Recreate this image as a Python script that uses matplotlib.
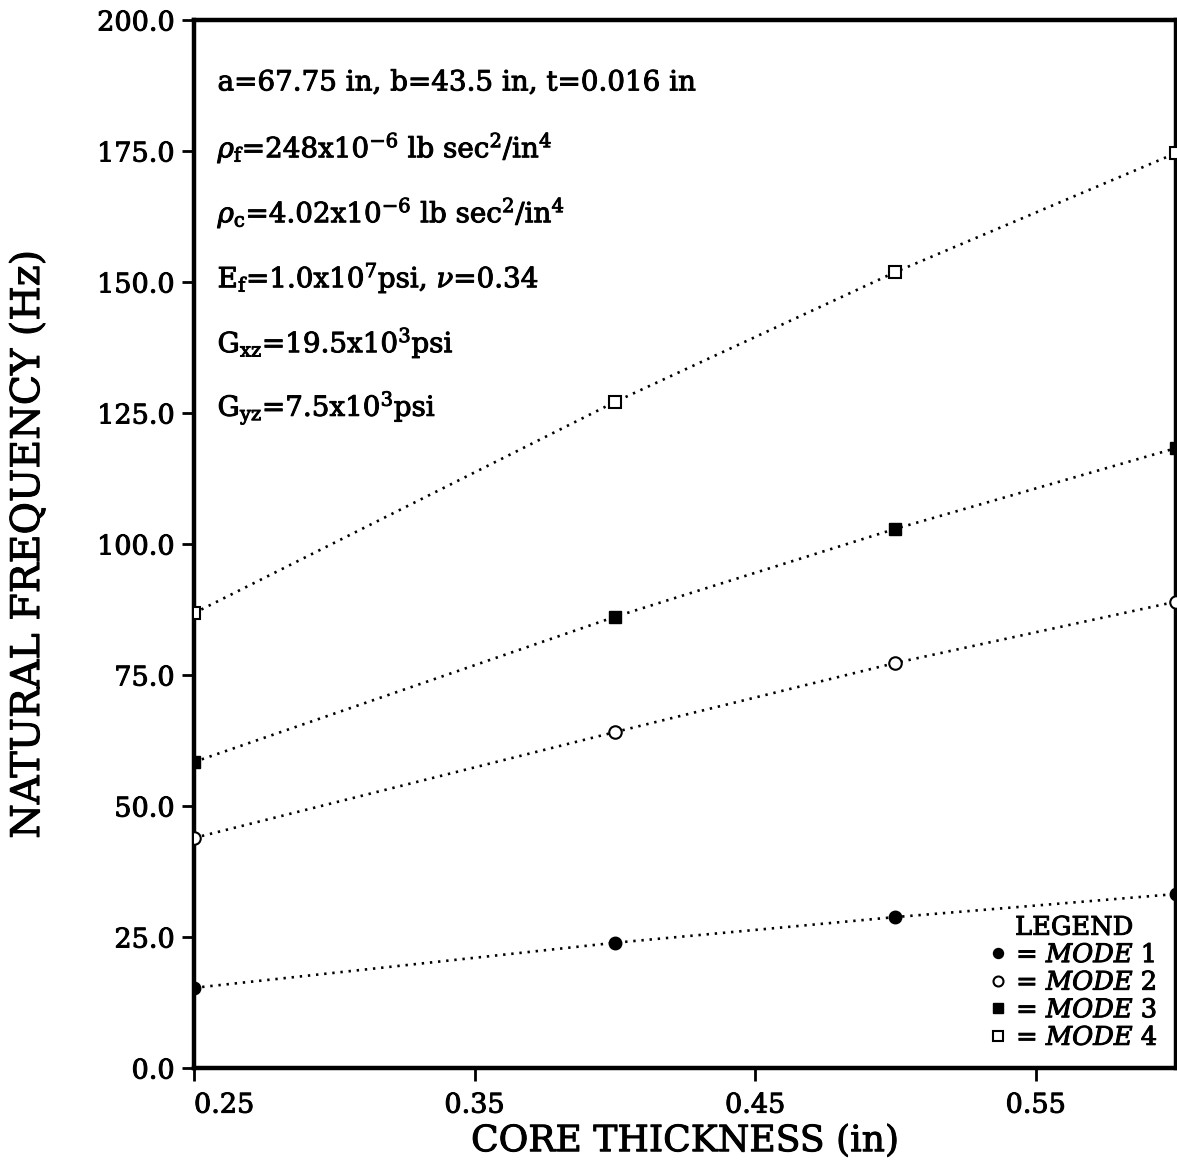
import matplotlib
matplotlib.use("Agg")
import matplotlib.pyplot as plt
import matplotlib.patheffects as pe
from matplotlib.lines import Line2D

plt.rcParams['font.family'] = ['DejaVu Serif']
plt.rcParams['mathtext.fontset'] = 'dejavuserif'

# Core thickness (in) and natural frequencies (Hz) of the first four modes
core_thickness = [0.25, 0.40, 0.50, 0.60]
mode1 = [15.3, 23.9, 28.8, 33.2]
mode2 = [43.9, 64.1, 77.3, 89.0]
mode3 = [58.4, 86.1, 102.9, 118.3]
mode4 = [86.8, 127.1, 151.9, 174.6]

x_ticks = [0.25, 0.35, 0.45, 0.55]
y_ticks = [0, 25, 50, 75, 100, 125, 150, 175, 200]

# slight ink spread to give the printed look
ink = [pe.withStroke(linewidth=0.7, foreground='black')]

W, H = 1177, 1167
fig = plt.figure(figsize=(W / 100, H / 100), dpi=100)
ax = fig.add_axes([194 / W, 1 - 1068 / H, (1176 - 194) / W, (1068 - 20) / H])

series = [
    (mode1, dict(marker='o', mfc='black', mec='black', ms=9)),
    (mode2, dict(marker='o', mfc='white', mec='black', ms=9, mew=1.5)),
    (mode3, dict(marker='s', mfc='black', mec='black', ms=9)),
    (mode4, dict(marker='s', mfc='white', mec='black', ms=9, mew=1.5)),
]
for vals, style in series:
    ax.plot(core_thickness, vals, color='black', lw=1.9,
            linestyle=(0, (0.9, 2.2)), zorder=3, **style)

ax.set_xlim(0.25, 0.60)
ax.set_ylim(0, 200)
ax.set_xticks(x_ticks)
ax.set_xticklabels([f"{v:.2f}" for v in x_ticks])
ax.set_yticks(y_ticks)
ax.set_yticklabels([f"{v:.1f}" for v in y_ticks])
ax.tick_params(axis='both', direction='out', length=9, width=2,
               labelsize=19.5, color='black')
ax.tick_params(axis='x', pad=8)
ax.tick_params(axis='y', pad=5)
xlabels = ax.get_xticklabels()
xlabels[0].set_horizontalalignment('left')
for lab in ax.get_xticklabels() + ax.get_yticklabels():
    lab.set_path_effects(ink)
for sp in ax.spines.values():
    sp.set_linewidth(3.2)

ax.set_xlabel("CORE THICKNESS (in)", fontsize=26, labelpad=4,
              path_effects=ink)
ax.set_ylabel("NATURAL FREQUENCY (Hz)", fontsize=28.5, labelpad=36,
              path_effects=ink)

notes = [
    r"a=67.75 in, b=43.5 in, t=0.016 in",
    r"$\rho_{\rm f}$=248x10$^{-6}$ lb sec$^{2}$/in$^{4}$",
    r"$\rho_{\rm c}$=4.02x10$^{-6}$ lb sec$^{2}$/in$^{4}$",
    r"E$_{\rm f}$=1.0x10$^{7}$psi, $\nu$=0.34",
    r"G$_{\rm xz}$=19.5x10$^{3}$psi",
    r"G$_{\rm yz}$=7.5x10$^{3}$psi",
]
for i, s in enumerate(notes):
    ax.text(0.024, 0.94 - i * 0.062, s, transform=ax.transAxes,
            fontsize=20, va='center', ha='left', path_effects=ink)

handles = [Line2D([], [], linestyle='none', color='black', **style)
           for _, style in series]
labels = [r"= $\mathit{MODE}$ %d" % (i + 1) for i in range(4)]
leg = ax.legend(handles, labels, title="LEGEND", loc='lower right',
                frameon=False, fontsize=18.5, title_fontsize=18.5,
                handlelength=0.6, handletextpad=0.4, labelspacing=0.1,
                borderaxespad=0.3, markerscale=0.8)
for t in leg.get_texts() + [leg.get_title()]:
    t.set_path_effects(ink)

fig.savefig("out.png", dpi=100)
